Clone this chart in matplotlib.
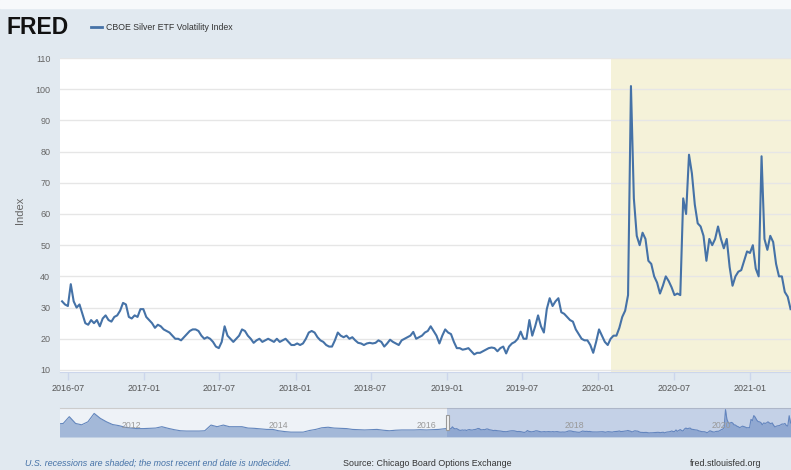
import numpy as np
import pandas as pd
import matplotlib
matplotlib.use("Agg")
import matplotlib.pyplot as plt
import matplotlib.dates as mdates
from matplotlib.lines import Line2D
from matplotlib.patches import Rectangle

SANS = ['Liberation Sans', 'DejaVu Sans']

# CBOE Silver ETF Volatility Index, weekly (Fridays)
start = "2016-06-17"
vals = [32, 31, 30.5, 37.5, 32, 30, 31, 28, 25, 24.5, 26, 25, 26, 24, 26.5, 27.5, 26, 25.5, 27, 27.5,
        29, 31.5, 31, 27, 26.5, 27.5, 27, 29.5, 29.5, 27,
        26, 25, 23.5, 24.5, 24, 23, 22.5, 22, 21, 20,
        20, 19.5, 20.5, 21.5, 22.5, 23, 23, 22.5, 21, 20,
        20.5, 20, 19, 17.5, 17, 19, 24, 21, 20, 19,
        20, 21, 23, 22.5, 21, 20, 18.7, 19.5, 20, 19,
        19.5, 20, 19.5, 19, 20, 19, 19.5, 20, 19, 18,
        18, 18.5, 18, 18.5, 20, 22, 22.5, 22, 20.5, 19.5,
        19, 18, 17.5, 17.5, 19.5, 22, 21, 20.5, 21, 20,
        20.5, 19.5, 18.7, 18.5, 18, 18.5, 18.7, 18.5, 18.7, 19.5,
        19, 17.5, 18.5, 19.7, 19, 18.5, 18, 19.5, 20, 20.5,
        21, 22.2, 20, 20.5, 21, 22, 22.5, 24, 22.5, 21,
        18.5, 21, 23, 22, 21.5, 19, 17, 17, 16.5, 16.7,
        17, 16, 15, 15.5, 15.5, 16, 16.5, 17, 17.2, 17,
        16, 17, 17.5, 15.3, 17.5, 18.5, 19, 20, 22.3, 20,
        20, 26, 21, 24, 27.5, 24, 22, 29.5, 33, 30.5,
        32, 33, 28.5, 28, 27, 26, 25.5, 23, 21.5, 20,
        19.5, 19.5, 18, 15.5, 19, 23, 21, 19, 18, 20,
        21, 21, 23.5, 27, 29, 34, 101, 65, 53, 50,
        54, 52, 45, 44, 40, 38, 34.5, 37, 40, 38.5,
        36.5, 34, 34.5, 34, 65, 60, 79, 73, 63, 57,
        56, 53, 45, 52, 50, 52, 56, 52, 49, 52,
        43, 37, 40, 41.5, 42, 45, 48, 47.5, 50, 42.5,
        40, 78.5, 52, 48.5, 53, 51, 44, 40, 40, 35, 33.5, 29.5]
dates = pd.date_range(start, periods=len(vals), freq="W-FRI")

# older history shown only in the navigator (monthly)
nav_start = "2011-03-01"
nav_vals = [48, 50, 75, 50, 45, 56, 87, 69, 56, 46,
            42, 36, 33, 31, 31, 32, 33, 38, 32, 27, 23, 22,
            22, 22, 23, 44, 38, 44, 38, 38, 38, 33, 32, 30,
            28, 28, 23, 20, 18, 18, 18, 24, 28, 34, 36, 33,
            32, 31, 28, 27, 26, 27, 28, 25, 23, 25, 26, 26,
            26, 27, 26, 27, 28]
nav_dates = pd.date_range(nav_start, periods=len(nav_vals), freq="MS")

recession_start = "2020-02-01"
xticks = pd.date_range("2016-07-01", "2021-01-01", freq="6MS")
nav_years = ["2012", "2014", "2016", "2018", "2020"]

BG = '#e1e9f0'
BLUE = '#4572a7'
W, H = 791, 470

fig = plt.figure(figsize=(W / 100, H / 100), dpi=100, facecolor=BG)
fig.patches.append(Rectangle((0, 1 - 8 / H), 1, 8 / H, transform=fig.transFigure,
                             color='#f7f9fb', zorder=0))

ax = fig.add_axes([60 / W, 98 / H, 731 / W, 314 / H])
ax.set_facecolor('white')
ax.axvspan(pd.Timestamp(recession_start), pd.Timestamp("2021-06-01"),
           color='#f5f2d9', zorder=0, lw=0)
ax.plot(dates, vals, color=BLUE, lw=1.5, zorder=3)
ax.set_xlim(pd.Timestamp("2016-06-12"), pd.Timestamp("2021-04-10"))
ax.set_ylim(9.35, 110)
ax.set_yticks(range(10, 111, 10))
ax.grid(axis='y', color='#e6e6e6', lw=1, zorder=1)
ax.set_xticks(xticks)
ax.xaxis.set_major_formatter(mdates.DateFormatter('%Y-%m'))
for s in ['top', 'right', 'left']:
    ax.spines[s].set_visible(False)
ax.spines['bottom'].set_color('#ccd6eb')
ax.tick_params(axis='y', length=0, pad=7, labelsize=6.5, labelcolor='#666666')
ax.tick_params(axis='x', length=6, width=1, color='#ccd6eb', pad=2.5,
               labelsize=6.5, labelcolor='#555555')
for lab in ax.get_xticklabels() + ax.get_yticklabels():
    lab.set_family(SANS)

fig.text(20 / W, 1 - 210 / H, 'Index', rotation=90, ha='center', va='center',
         fontsize=8, color='#666666', family=SANS)

# header
fig.text(6 / W, 1 - 27 / H, 'FRED', fontsize=16.5, weight='bold', color='#111111',
         family=SANS, va='center', ha='left')
fig.add_artist(Line2D([91 / W, 102 / W], [1 - 27 / H, 1 - 27 / H], color=BLUE, lw=2,
                      transform=fig.transFigure))
fig.text(106 / W, 1 - 27 / H, 'CBOE Silver ETF Volatility Index', fontsize=6.3,
         color='#333333', family=SANS, va='center', ha='left')

# navigator
nav = fig.add_axes([60 / W, 33 / H, 731 / W, 29 / H])
nav.set_facecolor('#eef2f7')
all_d = list(nav_dates) + list(dates)
all_v = nav_vals + vals
nav.fill_between(all_d, 0, all_v, color='#a3b8d8', lw=0, zorder=2)
nav.plot(all_d, all_v, color='#6386bd', lw=0.8, zorder=3)
nav.set_xlim(pd.Timestamp("2011-03-16"), pd.Timestamp("2021-02-07"))
nav.set_ylim(0, 107)
nav.axvspan(pd.Timestamp("2016-06-12"), pd.Timestamp("2021-06-01"),
            color=(0.40, 0.52, 0.76, 0.3), lw=0, zorder=4)
for y in nav_years:
    nav.text(pd.Timestamp(y + "-01-01") + pd.Timedelta(days=12), 0.38, y,
             transform=nav.get_xaxis_transform(), fontsize=6.3, color='#999999',
             family=SANS, va='center', ha='left', zorder=5)
nav.set_xticks([])
nav.set_yticks([])
for s in ['left', 'right', 'bottom']:
    nav.spines[s].set_visible(False)
nav.spines['top'].set_color('#cccccc')
hx = mdates.date2num(pd.Timestamp("2016-06-12"))
nav.add_patch(Rectangle((hx - 7, 0.25), 14, 0.5, transform=nav.get_xaxis_transform(),
                        facecolor='#f2f2f2', edgecolor='#999999', lw=0.8, zorder=6))

# footer
fy = 1 - 463 / H
fig.text(25 / W, fy, 'U.S. recessions are shaded; the most recent end date is undecided.',
         fontsize=6.4, style='italic', color=BLUE, family=SANS, va='center')
fig.text(343 / W, fy, 'Source: Chicago Board Options Exchange', fontsize=6.4,
         color='#333333', family=SANS, va='center')
fig.text(690 / W, fy, 'fred.stlouisfed.org', fontsize=6.4, color='#333333',
         family=SANS, va='center')

fig.savefig('out.png', dpi=100, facecolor=BG)
